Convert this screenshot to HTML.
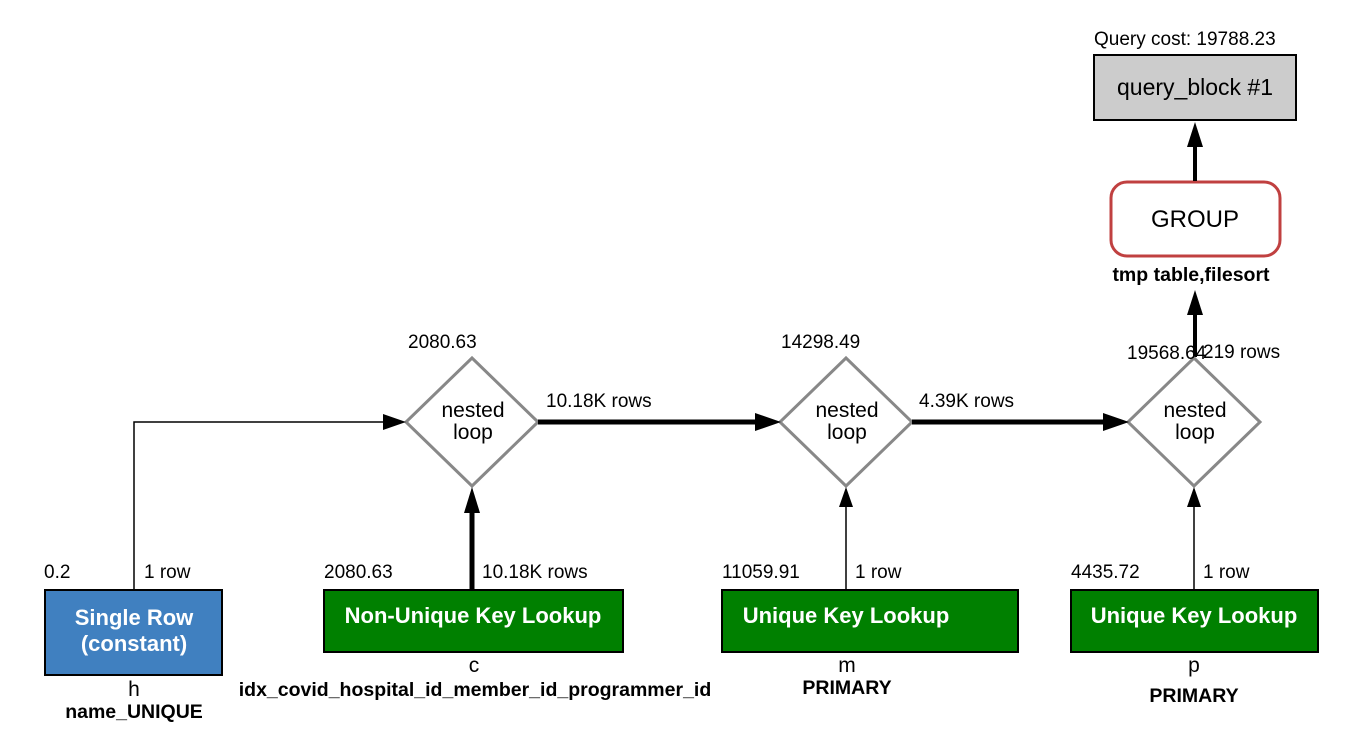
<!DOCTYPE html>
<html><head><meta charset="utf-8"><style>
html,body{margin:0;padding:0;background:#fff;}
svg{display:block;font-family:"Liberation Sans",Arial,sans-serif;}
</style></head><body>
<svg width="1356" height="730" viewBox="0 0 1356 730" xmlns="http://www.w3.org/2000/svg">
<text x="1094" y="45" font-size="19">Query cost: 19788.23</text>
<rect x="1094" y="55" width="202" height="65" fill="#cccccc" stroke="#000" stroke-width="2"/>
<text x="1195" y="95" font-size="23" text-anchor="middle">query_block #1</text>
<rect x="1111" y="182" width="169" height="74" rx="16" fill="#fff" stroke="#c04040" stroke-width="3"/>
<text x="1195" y="227" font-size="24" text-anchor="middle">GROUP</text>
<text x="1191" y="281" font-size="19.5" font-weight="bold" text-anchor="middle">tmp table,filesort</text>
<line x1="1195" y1="181" x2="1195" y2="146" stroke="#000" stroke-width="4"/>
<path d="M1187,147 L1195,122 L1203,147z" fill="#000"/>
<line x1="1195" y1="357" x2="1195" y2="314" stroke="#000" stroke-width="4"/>
<path d="M1187,315 L1195,290 L1203,315z" fill="#000"/>
<g fill="#fff" stroke="#888" stroke-width="3">
<path d="M472,358 L538,422 L472,486 L406,422z"/>
<path d="M846,358 L912,422 L846,486 L780,422z"/>
<path d="M1194,358 L1260,422 L1194,486 L1128,422z"/>
</g>
<g font-size="21" text-anchor="middle">
<text x="473" y="417">nested</text><text x="473" y="439">loop</text>
<text x="847" y="417">nested</text><text x="847" y="439">loop</text>
<text x="1195" y="417">nested</text><text x="1195" y="439">loop</text>
</g>
<g font-size="19">
<text x="408" y="348">2080.63</text>
<text x="781" y="348">14298.49</text>
<text x="1127" y="359">19568.64</text>
<text x="1203" y="358">219 rows</text>
<text x="546" y="407">10.18K rows</text>
<text x="919" y="407">4.39K rows</text>
</g>
<line x1="538" y1="422" x2="756" y2="422" stroke="#000" stroke-width="5"/>
<path d="M755,413 L781,422 L755,431z" fill="#000"/>
<line x1="912" y1="422" x2="1104" y2="422" stroke="#000" stroke-width="5"/>
<path d="M1103,413 L1129,422 L1103,431z" fill="#000"/>
<polyline points="134,590 134,422 384,422" fill="none" stroke="#000" stroke-width="1.5"/>
<path d="M383,414 L406,422 L383,430z" fill="#000"/>
<line x1="472" y1="590" x2="472" y2="512" stroke="#000" stroke-width="5"/>
<path d="M464,513 L472,487 L480,513z" fill="#000"/>
<line x1="846" y1="590" x2="846" y2="506" stroke="#000" stroke-width="1.5"/>
<path d="M839,507 L846,487 L853,507z" fill="#000"/>
<line x1="1194" y1="590" x2="1194" y2="506" stroke="#000" stroke-width="1.5"/>
<path d="M1187,507 L1194,487 L1201,507z" fill="#000"/>
<rect x="45" y="590" width="177" height="85" fill="#4080c0" stroke="#000" stroke-width="2"/>
<rect x="324" y="590" width="299" height="62" fill="#008000" stroke="#000" stroke-width="2"/>
<rect x="722" y="590" width="296" height="62" fill="#008000" stroke="#000" stroke-width="2"/>
<rect x="1071" y="590" width="247" height="62" fill="#008000" stroke="#000" stroke-width="2"/>
<g font-size="22" font-weight="bold" fill="#fff" text-anchor="middle">
<text x="134" y="625">Single Row</text>
<text x="134" y="651">(constant)</text>
<text x="473" y="623">Non-Unique Key Lookup</text>
<text x="846" y="623">Unique Key Lookup</text>
<text x="1194" y="623">Unique Key Lookup</text>
</g>
<g font-size="19">
<text x="44" y="578">0.2</text>
<text x="144" y="578">1 row</text>
<text x="324" y="578">2080.63</text>
<text x="482" y="578">10.18K rows</text>
<text x="722" y="578">11059.91</text>
<text x="855" y="578">1 row</text>
<text x="1071" y="578">4435.72</text>
<text x="1203" y="578">1 row</text>
</g>
<g font-size="21" text-anchor="middle">
<text x="134" y="696">h</text>
<text x="474" y="672">c</text>
<text x="847" y="672">m</text>
<text x="1194" y="672">p</text>
</g>
<g font-size="19.5" font-weight="bold" text-anchor="middle">
<text x="134" y="718">name_UNIQUE</text>
<text x="475" y="696">idx_covid_hospital_id_member_id_programmer_id</text>
<text x="847" y="694">PRIMARY</text>
<text x="1194" y="702">PRIMARY</text>
</g>
</svg>
</body></html>
